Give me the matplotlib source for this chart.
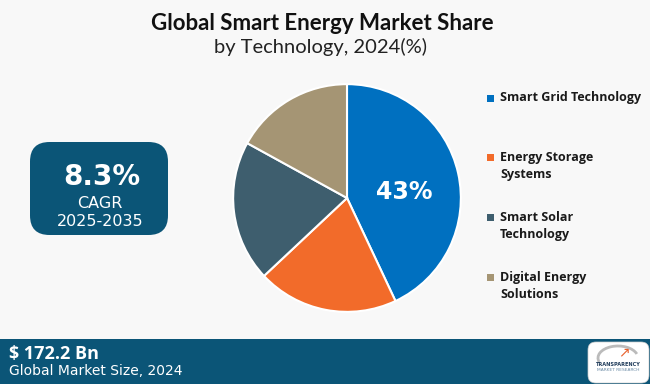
import matplotlib
matplotlib.use("Agg")
import matplotlib.pyplot as plt
from matplotlib.patches import FancyBboxPatch, Rectangle, Arc

# data
segments = ["Smart Grid Technology", "Energy Storage\nSystems", "Smart Solar\nTechnology", "Digital Energy\nSolutions"]
shares = [43, 20, 20, 17]
colors = ["#0070C0", "#F26B2A", "#3E5E6E", "#A59574"]
cagr = "8.3%"
cagr_period = "2025-2035"
market_size = "$ 172.2 Bn"
market_year = 2024

W, H = 650, 384
bg = "#F8F8F8"
teal = "#0B5577"

fig = plt.figure(figsize=(W / 100, H / 100), dpi=100)
fig.patch.set_facecolor(bg)

# pixel coords (from top-left) to figure fraction
def fx(x):
    return x / W

def fy(y):
    return 1 - y / H

# title
fig.text(fx(322), fy(23), "Global Smart Energy Market Share", ha="center", va="center",
         fontsize=16, fontweight="bold", family="Lato", color="#111111")
fig.text(fx(321), fy(47), "by Technology, 2024(%)", ha="center", va="center",
         fontsize=14.5, family="Lato", color="#222222")

# pie
ax = fig.add_axes([fx(232), fy(313), 230 / W, 230 / H])
wedges, _ = ax.pie(shares, colors=colors, startangle=90, counterclock=False,
                   wedgeprops=dict(edgecolor="white", linewidth=1.5))
ax.set_xlim(-1.01, 1.01)
ax.set_ylim(-1.01, 1.01)
ax.set_aspect("equal")
ax.text(0.5, 0.05, f"{shares[0]}%", ha="center", va="center", color="white",
        fontsize=17, fontweight="bold", family="DejaVu Sans")

# legend
legend_y = [98, 166, 226, 286]
for i, (lab, c) in enumerate(zip(segments, colors)):
    first = lab.split("\n")
    y0 = legend_y[i] - (9 if len(first) > 1 else 0)
    fig.patches.append(Rectangle((fx(487), fy(y0 + 3.5)), 7 / W, 7 / H,
                                 transform=fig.transFigure, facecolor=c, edgecolor="none"))
    fig.text(fx(500), fy(legend_y[i]), lab, ha="left", va="center", fontsize=9,
             fontweight="bold", family="Open Sans", color="#1a1a1a", linespacing=1.35)

# CAGR box
box = FancyBboxPatch((fx(30), fy(235)), (168 - 30) / W, (235 - 142) / H,
                     boxstyle="round,pad=0,rounding_size=0.03",
                     transform=fig.transFigure, facecolor=teal, edgecolor="none",
                     mutation_aspect=W / H)
fig.patches.append(box)
fig.text(fx(102), fy(177), cagr, ha="center", va="center", color="white",
         fontsize=20, fontweight="bold", family="DejaVu Sans")
fig.text(fx(100), fy(203), "CAGR", ha="center", va="center", color="white",
         fontsize=11.5, family="DejaVu Sans")
fig.text(fx(100), fy(222), cagr_period, ha="center", va="center", color="white",
         fontsize=11.5, family="DejaVu Sans")

# bottom band
fig.patches.append(Rectangle((0, 0), 1, fy(339), transform=fig.transFigure,
                             facecolor=teal, edgecolor="none"))
fig.text(fx(9), fy(354), market_size, ha="left", va="center", color="white",
         fontsize=13, fontweight="bold", family="Open Sans")
fig.text(fx(9), fy(371), f"Global Market Size, {market_year}", ha="left", va="center",
         color="white", fontsize=10, family="DejaVu Sans")

# logo
logo = FancyBboxPatch((fx(588), fy(383)), 61 / W, 41 / H,
                      boxstyle="round,pad=0,rounding_size=0.012",
                      transform=fig.transFigure, facecolor="white", edgecolor="#cccccc",
                      linewidth=0.5, mutation_aspect=W / H)
fig.patches.append(logo)
fig.patches.append(Arc((fx(618), fy(358)), 40 / W, 24 / H, theta1=20, theta2=200,
                       transform=fig.transFigure, color="#bbbbbb", linewidth=2))
fig.text(fx(618), fy(364), "TRANSPARENCY", ha="center", va="center", fontsize=3.6,
         fontweight="bold", color="#1f3b5a")
fig.text(fx(618), fy(370), "MARKET RESEARCH", ha="center", va="center", fontsize=3.2,
         color="#6a8aa5")
fig.text(fx(624), fy(352), "\u2197", ha="center", va="center", fontsize=10,
         color="#E8602C")

fig.savefig("out.png", dpi=100, facecolor=bg)
